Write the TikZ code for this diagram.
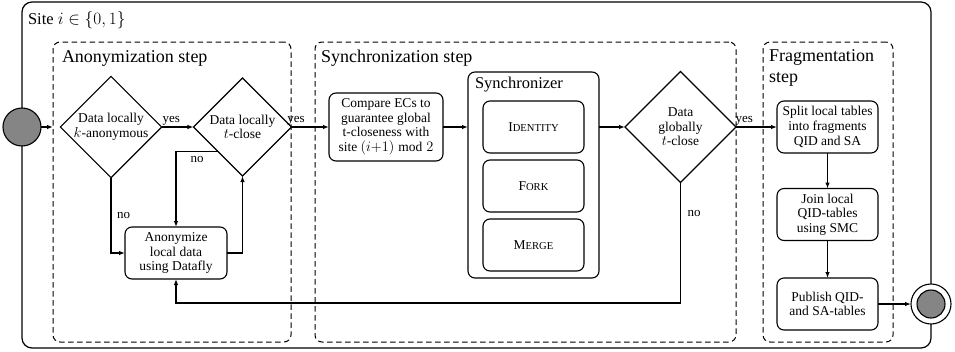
\documentclass[tikz,border=0pt]{standalone}
\usepackage{fontspec}
\setmainfont{Liberation Serif}
\usetikzlibrary{shapes.geometric,arrows.meta,calc}
\newcommand\fakesmallcaps[1]{{\fontsize{10.6}{12}\selectfont #1}}
\begin{document}
\begin{tikzpicture}[x=1pt,y=-1pt,
  every node/.style={inner sep=0pt, outer sep=0pt},
  txt/.style={font=\fontsize{13.5}{14.6}\selectfont, align=center},
  lbl/.style={font=\fontsize{13}{14}\selectfont, inner sep=2pt},
  titletext/.style={font=\fontsize{18}{21}\selectfont, align=left},
  subtitletext/.style={font=\fontsize{16.5}{19}\selectfont},
  stepbox/.style={draw, dash pattern=on 5.5pt off 3.5pt, line width=1pt, rounded corners=7pt, anchor=north west},
  proc/.style={txt, draw, line width=1.1pt, rounded corners=7pt},
  dec/.style={txt, draw, diamond, aspect=1, line width=1.1pt},
  arr/.style={line width=1.1pt, -{Latex[length=6pt,width=4.5pt]}},
  startstate/.style={circle, draw, fill=black!48, line width=1.1pt},
]
\useasboundingbox (0,0) rectangle (955,351);

% outer site box
\node[draw, line width=1.2pt, rounded corners=10pt, minimum width=909pt, minimum height=346pt, anchor=north west] (site) at (22,2) {};
\node[subtitletext, anchor=base west] (sitelabel) at (28,24) {Site $i \in \{0,1\}$};

% step boxes
\node[stepbox, minimum width=238pt, minimum height=300pt] (anon) at (53,42) {};
\node[stepbox, minimum width=421pt, minimum height=300pt] (syncstep) at (315,42) {};
\node[stepbox, minimum width=130pt, minimum height=300pt] (frag) at (763,42) {};
\node[titletext, anchor=base west] (anontitle) at (62,62) {Anonymization step};
\node[titletext, anchor=base west] (synctitle) at (321,62) {Synchronization step};
\node[titletext, anchor=north west] (fragtitle) at (769,49.5) {Fragmentation\\step};

% anonymization step
\node[dec, minimum width=98pt, minimum height=98pt] (d1) at (111,127) {Data locally\\$k$-anonymous};
\node[dec, minimum width=98pt, minimum height=98pt] (d2) at (242.5,127) {Data locally\\$t$-close};
\node[proc, minimum width=102pt, minimum height=52pt] (anonz) at (176,253) {Anonymize\\local data\\using Datafly};

% synchronization step
\node[proc, minimum width=114pt, minimum height=68pt] (compare) at (386,127) {Compare ECs to\\guarantee global\\t-closeness with\\site $(i{+}1) \bmod 2$};
\node[draw, line width=1.1pt, rounded corners=7pt, minimum width=131pt, minimum height=206pt, anchor=north west] (sync) at (468,72) {};
\node[subtitletext, anchor=base west] (synctext) at (475,88) {Synchronizer};
\node[proc, minimum width=101pt, minimum height=52pt] (ident) at (533.5,127) {I\fakesmallcaps{DENTITY}};
\node[proc, minimum width=101pt, minimum height=52pt] (fork) at (533.5,186) {F\fakesmallcaps{ORK}};
\node[proc, minimum width=101pt, minimum height=52pt] (merge) at (533.5,245) {M\fakesmallcaps{ERGE}};
\node[dec, minimum width=111pt, minimum height=111pt] (dg) at (680.5,127) {Data\\globally\\$t$-close};

% fragmentation step
\node[proc, minimum width=101pt, minimum height=52pt] (split) at (827.5,127) {Split local tables\\into fragments\\QID and SA};
\node[proc, minimum width=101pt, minimum height=52pt] (join) at (827.5,214.5) {Join local\\QID-tables\\using SMC};
\node[proc, minimum width=101pt, minimum height=52pt] (publish) at (827.5,304) {Publish QID-\\and SA-tables};

% start / end states
\node[startstate, minimum size=38pt] (start) at (22,127) {};
\node[circle, draw, fill=white, line width=1.1pt, minimum size=40pt] (endc) at (931,304) {};
\node[startstate, minimum size=28pt] (endin) at (endc) {};

% connectors
\draw[arr] (start) -- (start -| anon.west);
\draw[arr] (d1) -- node[lbl, above, pos=0.3] (yes1) {yes} (d2);
\draw[arr] (d2) -- node[lbl, above, pos=0.12] (yes2) {yes} (compare);
\draw[arr] (d1.south) |- node[lbl, right=4pt, pos=0.25] (no1) {no} (anonz.west);
\draw[arr] (d2.south west) -| node[lbl, below=3pt, pos=0.25] (no2) {no} (anonz.north);
\draw[arr] (anonz.east) -| (d2.south);
\draw[arr] (compare) -- (sync.west |- compare);
\draw[arr] (sync.east |- dg) -- (dg);
\draw[arr] (dg) -- node[lbl, above, pos=0.2] (yes3) {yes} (split);
\draw[arr] (dg.south) |- node[lbl, right=5pt, pos=0.13] (no3) {no} ($(anonz.south)+(0,24)$) -- (anonz.south);
\draw[arr] (split) -- (join);
\draw[arr] (join) -- (publish);
\draw[arr] (publish) -- (endc);
\end{tikzpicture}
\end{document}
